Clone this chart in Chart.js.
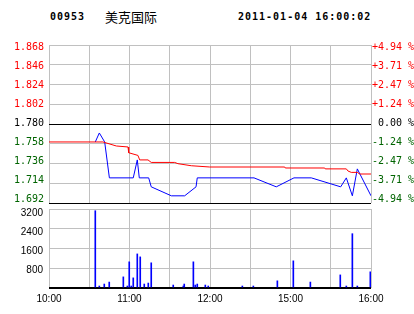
<!DOCTYPE html>
<html>
<head>
<meta charset="utf-8">
<script src="https://cdn.jsdelivr.net/npm/chart.js@4.4.1/dist/chart.umd.min.js"></script>
<style>
html,body{margin:0;padding:0;background:#fff;width:414px;height:314px;overflow:hidden;}
#wrap{position:relative;width:414px;height:314px;}
canvas{position:absolute;left:0;top:0;}
.hdr{position:absolute;top:10px;height:14px;line-height:14px;color:#000;white-space:nowrap;}
.mono{font-family:"DejaVu Sans Mono",monospace;font-weight:bold;font-size:10px;letter-spacing:1px;}
.cjk{font-family:"Noto Sans CJK SC",sans-serif;font-size:13px;}
</style>
</head>
<body>
<div id="wrap">
  <div class="hdr mono" style="left:50px">00953</div>
  <div class="hdr cjk" style="left:105px">美克国际</div>
  <div class="hdr mono" style="left:238px">2011-01-04 16:00:02</div>
  <canvas id="vol" width="414" height="314"></canvas>
  <canvas id="price" width="414" height="314"></canvas>
</div>
<script>
// ---- data (x = trading minutes since 10:00; lunch break removed) ----
const prevClose = 1.780;
const priceTicks = [1.692, 1.714, 1.736, 1.758, 1.780, 1.802, 1.824, 1.846, 1.868];
const volTicks = [800, 1600, 2400, 3200];
const timeTickMinutes = [0, 60, 120, 180, 240];
const timeTickLabels = ['10:00', '11:00', '12:00', '15:00', '16:00'];

const priceMinutes = [34.5, 37.5, 41.5, 45, 62.8, 65.8, 67.3, 74.3, 76.2, 91.2, 101.1, 109.6, 110.5, 152.8, 169.4, 182.6, 195.5, 217.4, 221.6, 226.1, 229.8, 240];
const priceValues  = [1.76, 1.77, 1.76, 1.72, 1.72, 1.74, 1.72, 1.72, 1.71, 1.70, 1.70, 1.71, 1.72, 1.72, 1.71, 1.72, 1.72, 1.71, 1.72, 1.70, 1.73, 1.70];

const avgMinutes = [0, 40.2, 50.2, 58.9, 59.4, 66.3, 67.6, 73.8, 76.2, 93.7, 96.1, 106.1, 119.8, 175.7, 176.1, 205.5, 205.9, 221.6, 222.9, 225.3, 229.8, 231.6, 240];
const avgValues  = [1.760, 1.760, 1.7555, 1.7544, 1.748, 1.745, 1.740, 1.740, 1.7372, 1.7372, 1.7358, 1.7335, 1.7321, 1.7321, 1.731, 1.731, 1.730, 1.730, 1.7276, 1.7261, 1.7261, 1.7243, 1.7243];

const volMinutes = [34.5, 37.5, 41.2, 44.9, 55.4, 58.4, 59.8, 61.3, 62.8, 65.8, 68.0, 71.0, 74.0, 76.2, 92.6, 100.1, 100.8, 107.6, 109.0, 110.5, 116.5, 118.7, 144.1, 152.3, 170.2, 182.1, 194.8, 217.1, 221.6, 226.1, 229.8, 239.5];
const volValues  = [3130, 80, 160, 240, 450, 80, 1060, 80, 410, 1380, 1260, 160, 200, 1020, 120, 80, 160, 1060, 120, 160, 120, 80, 80, 80, 290, 1100, 240, 530, 80, 2200, 80, 650];

// ---- styling ----
const GRID = '#c0c0c0';
const RED = '#ff0000';
const GREEN = '#006400';
const BLACK = '#000000';
const monoFont = {family: 'DejaVu Sans Mono', size: 10};
const sansFont = {family: 'Liberation Sans', size: 10};

function tickColor(v) {
  if (Math.abs(v - prevClose) < 1e-6) return BLACK;
  return v > prevClose ? RED : GREEN;
}
function setTicks(arr) {
  return s => { s.ticks = arr.map(v => ({value: v})); };
}

new Chart(document.getElementById('price'), {
  type: 'line',
  data: {
    datasets: [
      {data: avgMinutes.map((m, i) => ({x: m, y: avgValues[i]})), borderColor: RED, borderWidth: 1, pointRadius: 0, tension: 0, yAxisID: 'y'},
      {data: priceMinutes.map((m, i) => ({x: m, y: priceValues[i]})), borderColor: '#0000ff', borderWidth: 1, pointRadius: 0, tension: 0, yAxisID: 'y'}
    ]
  },
  options: {
    responsive: false, animation: false, events: [],
    layout: {padding: {left: 0, right: 0, top: 45, bottom: 111}},
    plugins: {legend: {display: false}, tooltip: {enabled: false}},
    scales: {
      x: {type: 'linear', min: 0, max: 240,
          ticks: {display: false, stepSize: 30},
          grid: {color: GRID, drawTicks: false}, border: {display: false},
          afterFit: s => { s.height = 0; }},
      y: {position: 'left', min: 1.692, max: 1.868,
          afterBuildTicks: setTicks(priceTicks),
          ticks: {display: false},
          grid: {drawTicks: false, color: c => {
            const v = c.tick.value;
            return (Math.abs(v - prevClose) < 1e-6 || Math.abs(v - 1.692) < 1e-6) ? BLACK : GRID;
          }},
          border: {display: false},
          afterFit: s => { s.width = 0; }},
      yl: {position: 'left', min: 1.6882, max: 1.8703,
          afterBuildTicks: setTicks(priceTicks),
          ticks: {font: monoFont, padding: 5, color: c => tickColor(c.tick.value),
                  callback: v => Number(v).toFixed(3)},
          grid: {display: false, drawTicks: false}, border: {display: false},
          afterFit: s => { s.width = 49; }},
      yr: {position: 'right', min: 1.6882, max: 1.8703,
          afterBuildTicks: setTicks(priceTicks),
          ticks: {font: monoFont, padding: 1, color: c => tickColor(c.tick.value),
                  callback: v => {
                    const p = (v - prevClose) / prevClose * 100;
                    if (Math.abs(p) < 0.005) return ' 0.00 %';
                    return (p > 0 ? '+' : '') + p.toFixed(2) + ' %';
                  }},
          grid: {display: false, drawTicks: false}, border: {display: false},
          afterFit: s => { s.width = 43; }}
    }
  }
});

new Chart(document.getElementById('vol'), {
  type: 'bar',
  data: {
    datasets: [
      {data: volMinutes.map((m, i) => ({x: m, y: volValues[i]})), backgroundColor: '#0000ff', barThickness: 1, yAxisID: 'y'}
    ]
  },
  options: {
    responsive: false, animation: false, events: [],
    layout: {padding: {left: 0, right: 43, top: 209, bottom: 0}},
    plugins: {legend: {display: false}, tooltip: {enabled: false}},
    scales: {
      x: {type: 'linear', min: 0, max: 240, offset: false,
          ticks: {stepSize: 30, autoSkip: false, maxRotation: 0, padding: 5, font: sansFont, color: BLACK,
                  callback: v => { const i = timeTickMinutes.indexOf(v); return i >= 0 ? timeTickLabels[i] : ''; }},
          grid: {color: GRID, drawTicks: false, offset: false}, border: {display: false},
          afterFit: s => { s.height = 26; }},
      y: {position: 'left', min: 0, max: 3200,
          ticks: {display: false, stepSize: 800},
          grid: {drawTicks: false,
                 color: c => c.tick.value === 0 ? BLACK : GRID,
                 lineWidth: c => c.tick.value === 0 ? 2 : 1},
          border: {display: false},
          afterFit: s => { s.width = 0; }},
      yl: {position: 'left', min: 38, max: 3369,
          afterBuildTicks: setTicks(volTicks),
          ticks: {font: sansFont, padding: 6, color: BLACK, callback: v => String(v)},
          grid: {display: false, drawTicks: false}, border: {display: false},
          afterFit: s => { s.width = 49; }}
    }
  }
});
</script>
</body>
</html>
